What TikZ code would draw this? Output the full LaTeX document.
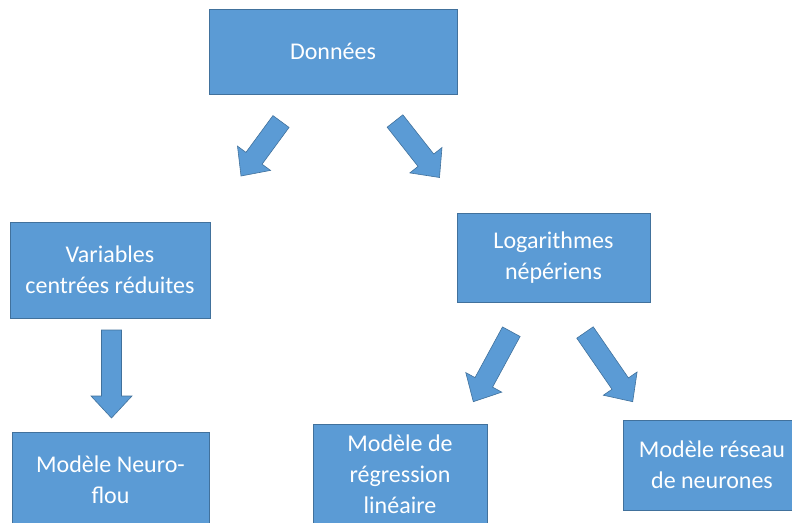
\documentclass[tikz,border=0pt]{standalone}
\usepackage{fontspec}
\setmainfont{Carlito}
\usetikzlibrary{calc}

\definecolor{boxfill}{HTML}{5B9BD5}
\definecolor{boxline}{HTML}{41719C}

% Block arrow from a tail centre (#1) to a tip (#2):
% shaft 20pt wide, head 41pt wide and 22pt long.
\newcommand\blockarr[2]{%
  \coordinate (hb) at ($(#2)!22pt!(#1)$);
  \draw[arrowshape]
    ($(#1)!10pt!90:(#2)$) -- ($(hb)!10pt!-90:(#1)$) --
    ($(hb)!20.5pt!-90:(#1)$) -- (#2) --
    ($(hb)!20.5pt!90:(#1)$) -- ($(hb)!10pt!90:(#1)$) --
    ($(#1)!10pt!-90:(#2)$) -- cycle;
}

\begin{document}
\begin{tikzpicture}[x=1pt,y=-1pt,
  box/.style={draw=boxline, line width=0.8pt, fill=boxfill, text=white,
    align=center, inner sep=0pt, font=\fontsize{24}{31}\selectfont},
  arrowshape/.style={draw=boxline, line width=0.6pt, fill=boxfill, line join=miter}]
  \useasboundingbox (0,0) rectangle (792,522);
  \clip (0,0) rectangle (792,522);

  % boxes
  \node[box, minimum width=248pt, minimum height=85pt] (dat) at (333,51.5) {Données};
  \node[box, minimum width=200pt, minimum height=96pt] (var) at (110,270) {Variables\\centrées réduites};
  \node[box, minimum width=193pt, minimum height=89pt] (log) at (553.5,257.5) {Logarithmes\\népériens};
  \node[box, minimum width=197pt, minimum height=96pt] (nf) at (110.5,480) {Modèle Neuro-\\flou};
  \node[box, minimum width=174pt, minimum height=100pt] (reg) at (400,474) {Modèle de\\régression\\linéaire};
  \node[box, minimum width=178pt, minimum height=90pt] (res) at (712,465) {Modèle réseau\\de neurones};

  % arrow ends
  \coordinate (a1t) at (281,121.5);   \coordinate (a1p) at (241,176);
  \coordinate (a2t) at (395,121);     \coordinate (a2p) at (439.5,177.5);
  \coordinate (a3t) at (511.3,331.7); \coordinate (a3p) at (473.3,401.7);
  \coordinate (a4t) at (585,332.5);   \coordinate (a4p) at (632.7,401.7);
  \coordinate (a5t) at (111.5,330);   \coordinate (a5p) at (111.5,418);

  \blockarr{a1t}{a1p}
  \blockarr{a2t}{a2p}
  \blockarr{a3t}{a3p}
  \blockarr{a4t}{a4p}
  \blockarr{a5t}{a5p}
\end{tikzpicture}
\end{document}
